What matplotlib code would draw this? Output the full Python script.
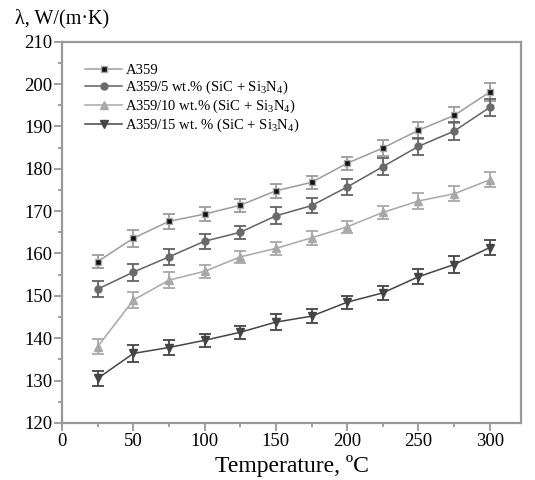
import matplotlib
matplotlib.use("Agg")
import matplotlib.pyplot as plt
from matplotlib.ticker import MultipleLocator
from matplotlib.lines import Line2D

plt.rcParams['font.family'] = ['Liberation Serif', 'DejaVu Serif']
plt.rcParams['mathtext.fontset'] = 'custom'
plt.rcParams['mathtext.rm'] = 'Liberation Serif'

temps = [25, 50, 75, 100, 125, 150, 175, 200, 225, 250, 275, 300]
a359 = [158.1, 163.6, 167.6, 169.3, 171.4, 174.8, 176.8, 181.3, 184.9, 189.1, 192.6, 198.1]
a359_5 = [151.6, 155.6, 159.2, 162.9, 165.0, 168.9, 171.3, 175.7, 180.5, 185.3, 188.9, 194.5]
a359_10 = [138.0, 149.0, 153.7, 155.8, 159.2, 161.2, 163.7, 166.3, 169.7, 172.4, 174.1, 177.4]
a359_15 = [130.5, 136.4, 137.8, 139.5, 141.4, 143.8, 145.2, 148.5, 150.7, 154.5, 157.4, 161.4]
err_a359 = [1.5, 2.0, 1.8, 1.7, 1.5, 1.7, 1.6, 1.6, 1.8, 2.0, 1.9, 2.2]
err_5 = [1.8, 2.0, 1.8, 1.8, 1.6, 2.0, 1.8, 1.8, 2.0, 2.0, 2.2, 2.0]
err_10 = [1.8, 1.8, 1.9, 1.6, 1.4, 1.6, 1.6, 1.4, 1.6, 1.8, 1.8, 1.8]
err_15 = [1.8, 2.0, 1.8, 1.6, 1.5, 1.8, 1.6, 1.5, 1.6, 1.8, 2.0, 1.8]

labels = ['A359',
          'A359/5 wt.% (SiC + Si$_3$N$_4$)',
          'A359/10 wt.% (SiC + Si$_3$N$_4$)',
          'A359/15 wt. % (SiC + Si$_3$N$_4$)']

fig = plt.figure(figsize=(5.35, 4.8), dpi=100)
ax = fig.add_axes([0.116, 0.119, 0.858, 0.794])

series = [
    (a359, err_a359, '#9c9c9c', 's', '#111111', '#aaaaaa', 4.0),
    (a359_5, err_5, '#626262', 'o', '#6a6a6a', '#6a6a6a', 5.0),
    (a359_10, err_10, '#a8a8a8', '^', '#a8a8a8', '#a8a8a8', 5.5),
    (a359_15, err_15, '#444444', 'v', '#444444', '#444444', 5.5),
]
handles = []
for (vals, err, col, mk, mfc, mec, ms), lab in zip(series, labels):
    ax.errorbar(temps, vals, yerr=err, color=col, lw=1.1, marker=mk, mfc=mfc,
                mec=mec, ms=ms, ecolor=col, elinewidth=1.3, capsize=4,
                capthick=1.3)
    handles.append(Line2D([], [], color=col, lw=1.1, marker=mk, mfc=mfc,
                          mec=mec, ms=ms, label=lab))

ax.set_xlim(0, 322)
ax.set_ylim(120, 210)
ax.xaxis.set_major_locator(MultipleLocator(50))
ax.xaxis.set_minor_locator(MultipleLocator(25))
ax.yaxis.set_major_locator(MultipleLocator(10))
ax.yaxis.set_minor_locator(MultipleLocator(5))
for s in ax.spines.values():
    s.set_color('#999999')
    s.set_linewidth(1.6)
ax.tick_params(which='major', direction='out', length=6, width=1.3, color='#999999',
               labelsize=13.5, labelcolor='black', pad=1)
ax.tick_params(which='minor', direction='out', length=3, width=1.3, color='#999999')
ax.tick_params(axis='x', which='both', top=False)

ax.set_xlabel('Temperature, ºC', fontsize=17, labelpad=4)
fig.text(0.028, 0.962, 'λ, W/(m·K)', fontsize=14.5, ha='left', va='center')

ax.legend(handles=handles, loc='upper left', bbox_to_anchor=(0.03, 0.965),
          frameon=False, fontsize=10.5, handlelength=2.6, labelspacing=0.12,
          handletextpad=0.2, borderaxespad=0.2)

fig.savefig('out.png', dpi=100)
